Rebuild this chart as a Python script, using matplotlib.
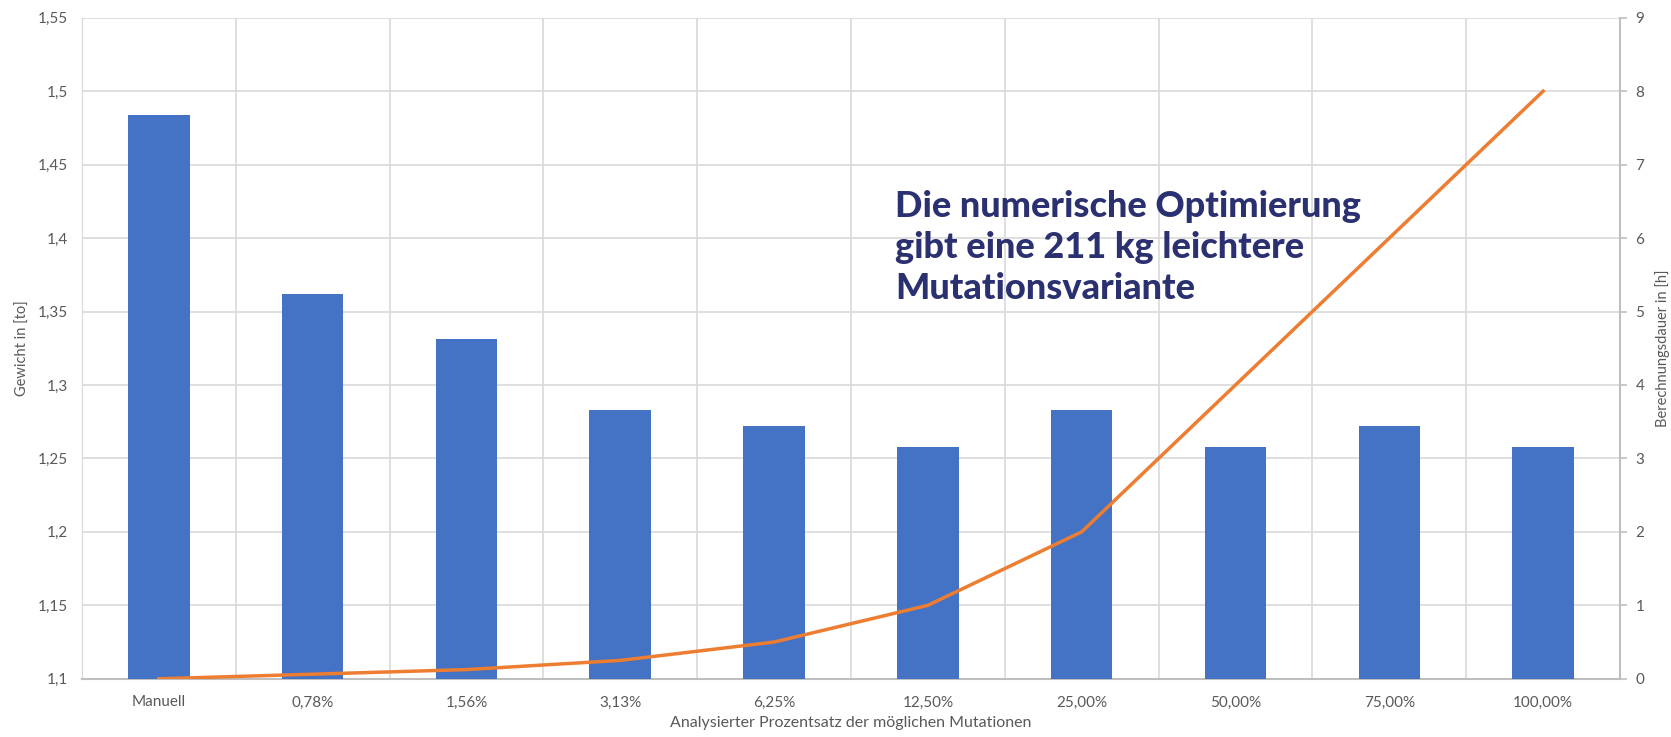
import numpy as np
import matplotlib
matplotlib.use("Agg")
import matplotlib.pyplot as plt
from matplotlib import ticker

categories = ["Manuell", "0,78%", "1,56%", "3,13%", "6,25%", "12,50%",
              "25,00%", "50,00%", "75,00%", "100,00%"]
gewicht = [1.484, 1.362, 1.331, 1.283, 1.272, 1.258, 1.283, 1.258, 1.272, 1.258]
dauer = [0.0, 0.0625, 0.125, 0.25, 0.5, 1.0, 2.0, 4.0, 6.0, 8.0]
left_ticks = [1.1, 1.15, 1.2, 1.25, 1.3, 1.35, 1.4, 1.45, 1.5, 1.55]
right_ticks = list(range(0, 10))

note = "Die numerische Optimierung\ngibt eine 211 kg leichtere\nMutationsvariante"

grid_col = "#D9D9D9"
txt_col = "#595959"
plt.rcParams["font.family"] = ["Lato", "DejaVu Sans"]

fig = plt.figure(figsize=(16.71, 7.37), dpi=100)
ax1 = fig.add_axes([0.049, 0.079, 0.9205, 0.897])
ax2 = ax1.twinx()

x = np.arange(len(categories))
ax1.bar(x, gewicht, width=0.4, color="#4472C4", zorder=3)
ax1.set_ylim(1.1, 1.55)
ax1.set_xlim(-0.5, len(categories) - 0.5)
ax1.set_yticks(left_ticks)
ax1.yaxis.set_major_formatter(ticker.FuncFormatter(lambda v, p: f"{v:g}".replace(".", ",")))
ax1.set_xticks(x)
ax1.set_xticklabels(categories)

# grid: horizontal at ticks, vertical between categories
ax1.set_xticks(x[:-1] + 0.5, minor=True)
ax1.grid(axis="y", which="major", color=grid_col, lw=1.2, zorder=0)
ax1.grid(axis="x", which="minor", color=grid_col, lw=1.2, zorder=0)
ax1.set_axisbelow(True)

ax2.plot(x, dauer, color="#ED7D31", lw=2.5, zorder=4)
ax2.set_ylim(0, 9)
ax2.set_yticks(right_ticks)

for ax in (ax1, ax2):
    for s in ax.spines.values():
        s.set_visible(False)
ax1.spines["bottom"].set_visible(True)
ax1.spines["bottom"].set_color("#BFBFBF")
ax1.spines["bottom"].set_linewidth(1.5)
ax1.spines["left"].set_visible(True)
ax1.spines["left"].set_color(grid_col)
ax2.spines["right"].set_visible(True)
ax2.spines["right"].set_color("#BFBFBF")
ax2.spines["right"].set_linewidth(1.5)

ax1.tick_params(axis="y", length=0, labelsize=11, labelcolor=txt_col, pad=10)
ax1.tick_params(axis="x", which="both", length=0, labelsize=11, labelcolor=txt_col, pad=12)
ax2.tick_params(axis="y", length=5, color="#BFBFBF", width=1.2, labelsize=11,
                labelcolor=txt_col, pad=6)

ax1.set_ylabel("Gewicht in [to]", fontsize=10.5, color=txt_col, labelpad=6)
ax2.set_ylabel("Berechnungsdauer in [h]", fontsize=10.5, color=txt_col, labelpad=8)
ax1.set_xlabel("Analysierter Prozentsatz der möglichen Mutationen", fontsize=11.5,
               color=txt_col, labelpad=5)

ax1.text(0.5285, 0.74, note, transform=ax1.transAxes, fontsize=26,
         fontweight="black", color="#2B3170", va="top", ha="left",
         linespacing=1.3, zorder=5)

fig.savefig("out.png", dpi=100)
